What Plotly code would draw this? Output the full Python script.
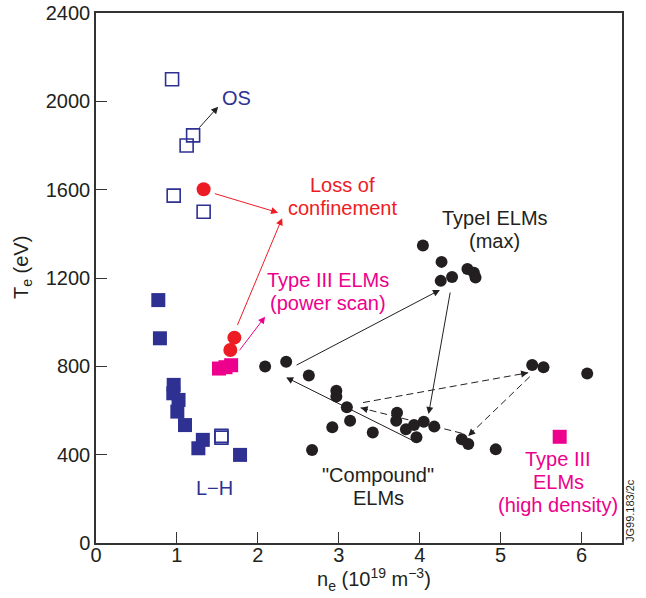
import math
import plotly.graph_objects as go

# ---------------- data: n_e (10^19 m^-3) vs T_e (eV) ----------------
# open squares: "OS" points (plus one at low T_e)
os_ne = [0.94, 1.20, 1.12, 0.96, 1.33, 1.55, 1.55]
os_te = [2100, 1846, 1800, 1573, 1500, 486, 477]

# filled squares: L-H transition
lh_ne = [0.77, 0.79, 0.96, 0.955, 1.02, 1.005, 1.10, 1.32, 1.265, 1.78]
lh_te = [1100, 927, 716, 678, 648, 595, 534, 467, 429, 399]

# loss of confinement
loss_ne = [1.33, 1.71, 1.66]
loss_te = [1602, 930, 874]

# Type III ELMs, power scan
t3p_ne = [1.52, 1.60, 1.67]
t3p_te = [790, 796, 805]

# Type III ELMs, high density
t3d_ne = [5.73]
t3d_te = [481]

# Type I ELMs (max)
t1_ne = [4.04, 4.27, 4.59, 4.67, 4.69, 4.40, 4.26]
t1_te = [1347, 1273, 1241, 1224, 1202, 1205, 1187]

# "Compound" ELMs and neighbouring ELMy points
cmp_ne = [2.09, 2.35, 2.63, 2.97, 2.97, 3.10, 3.14, 2.92, 3.42, 2.67,
          3.72, 3.71, 3.83, 3.93, 4.05, 4.18, 3.96, 4.52, 4.60, 4.94,
          5.39, 5.53, 6.07]
cmp_te = [799, 821, 758, 690, 663, 615, 554, 524, 500, 421,
          590, 554, 515, 534, 549, 527, 479, 470, 448, 424,
          806, 796, 768]

# arrows: tail_ne, tail_te, head_ne, head_te
os_arrow = [(1.26, 1874, 1.51, 1976)]
loss_arrows = [(1.45, 1584, 2.25, 1496), (1.74, 980, 2.30, 1471)]
t3p_arrow = [(1.76, 866, 2.09, 1025)]
black_arrows = [(2.46, 802, 4.25, 1146), (4.38, 1141, 4.11, 584),
                (3.92, 463, 2.35, 750)]
dashed_arrows = [(4.52, 497, 3.27, 612), (3.30, 636, 5.34, 771),
                 (5.36, 753, 4.60, 485)]

# text labels: lines, centre n_e, centre T_e
lbl_os = (["OS"], 1.74, 2015)
lbl_loss = (["Loss of", "confinement"], 3.05, 1569)
lbl_t3p = (["Type III ELMs", "(power scan)"], 2.87, 1139)
lbl_t1 = (["TypeI ELMs", "(max)"], 4.93, 1418)
lbl_cmp = (['"Compound"', "ELMs"], 3.49, 256)
lbl_lh = (["L\u2212H"], 1.47, 249)
lbl_t3d = (["Type III", "ELMs", "(high density)"], 5.71, 276)

x_ticks = [0, 1, 2, 3, 4, 5, 6]
y_ticks = [0, 400, 800, 1200, 1600, 2000, 2400]

# ---------------- style ----------------
BLUE = "#2e3192"
RED = "#ed1c24"
MAGENTA = "#ec008c"
BLACK = "#231f20"
AXIS = "#333333"
FONT = "Liberation Sans, Arial, sans-serif"

W, H = 646, 598
ML, MR, MT, MB = 96, 24, 13, 55
X_RANGE = [0, 6.5]
Y_RANGE = [0, 2400]
PW, PH = W - ML - MR, H - MT - MB
SX = PW / (X_RANGE[1] - X_RANGE[0])
SY = PH / (Y_RANGE[1] - Y_RANGE[0])
LINE_PX = 23

fig = go.Figure()

def markers(x, y, symbol, size, color, lw=0):
    fig.add_trace(go.Scatter(
        x=x, y=y, mode="markers", showlegend=False, hoverinfo="skip",
        marker=dict(symbol=symbol, size=size, color=color,
                    line=dict(width=lw, color=color))))

markers(cmp_ne, cmp_te, "circle", 12, BLACK)
markers(t1_ne, t1_te, "circle", 12, BLACK)
markers(lh_ne, lh_te, "square", 14, BLUE)
markers(os_ne, os_te, "square-open", 13, BLUE, lw=1.6)
markers(loss_ne, loss_te, "circle", 14, RED)
markers(t3p_ne, t3p_te, "square", 14, MAGENTA)
markers(t3d_ne, t3d_te, "square", 14, MAGENTA)

annotations = []

def solid_arrow(tx, ty, hx, hy, color):
    annotations.append(dict(
        x=hx, y=hy, ax=tx, ay=ty, xref="x", yref="y", axref="x", ayref="y",
        text="", showarrow=True, arrowhead=2, arrowsize=1.4,
        arrowwidth=1, arrowcolor=color, standoff=0))

for a in os_arrow:
    solid_arrow(*a, BLACK)
for a in loss_arrows:
    solid_arrow(*a, RED)
for a in t3p_arrow:
    solid_arrow(*a, MAGENTA)
for a in black_arrows:
    solid_arrow(*a, BLACK)

# dashed arrows: dashed shaft as a line trace, head as a short annotation arrow
for tx, ty, hx, hy in dashed_arrows:
    fig.add_trace(go.Scatter(
        x=[tx, hx], y=[ty, hy], mode="lines", showlegend=False,
        hoverinfo="skip", line=dict(color=BLACK, width=1, dash="7px,4px")))
    dx = (tx - hx) * SX
    dy = -(ty - hy) * SY
    n = math.hypot(dx, dy)
    annotations.append(dict(
        x=hx, y=hy, ax=dx / n * 9, ay=dy / n * 9, xref="x", yref="y",
        text="", showarrow=True, arrowhead=2, arrowsize=1.4,
        arrowwidth=1, arrowcolor=BLACK, standoff=0))

def label(spec, color):
    lines, x, y = spec
    n = len(lines)
    for i, t in enumerate(lines):
        annotations.append(dict(
            x=x, y=y, xref="x", yref="y", text=t, showarrow=False,
            yshift=((n - 1) / 2 - i) * LINE_PX, xanchor="center",
            yanchor="middle", font=dict(family=FONT, size=20, color=color)))

label(lbl_os, BLUE)
label(lbl_loss, RED)
label(lbl_t3p, MAGENTA)
label(lbl_t1, BLACK)
label(lbl_cmp, BLACK)
label(lbl_lh, BLUE)
label(lbl_t3d, MAGENTA)

def paper(px, py):
    return (px - ML) / PW, (H - MB - py) / PH

def side_text(px, py, text, size, angle=0):
    x, y = paper(px, py)
    annotations.append(dict(
        x=x, y=y, xref="paper", yref="paper", showarrow=False,
        xanchor="center", yanchor="middle", textangle=angle, text=text,
        font=dict(family=FONT, size=size, color=BLACK)))

side_text(374, 579, "n<sub>e</sub> (10<sup>19</sup> m<sup>\u22123</sup>)", 20)
side_text(22, 268, "T<sub>e</sub> (eV)", 20, angle=-90)
side_text(630, 511, "JG99.183/2c", 11, angle=-90)

axis_common = dict(
    showgrid=False, zeroline=False, showline=True, linecolor=AXIS,
    linewidth=1.5, mirror=True, ticks="inside", ticklen=11, tickwidth=1.2,
    tickcolor=AXIS, automargin=False,
    tickfont=dict(family=FONT, size=20, color=BLACK))

fig.update_layout(
    width=W, height=H,
    margin=dict(l=ML, r=MR, t=MT, b=MB, pad=0),
    paper_bgcolor="white", plot_bgcolor="white",
    xaxis=dict(range=X_RANGE, tickvals=x_ticks, ticklabelstandoff=-7,
               **axis_common),
    yaxis=dict(range=Y_RANGE, tickvals=y_ticks, **axis_common),
    annotations=annotations,
    showlegend=False,
)

fig.write_html("out.html")
